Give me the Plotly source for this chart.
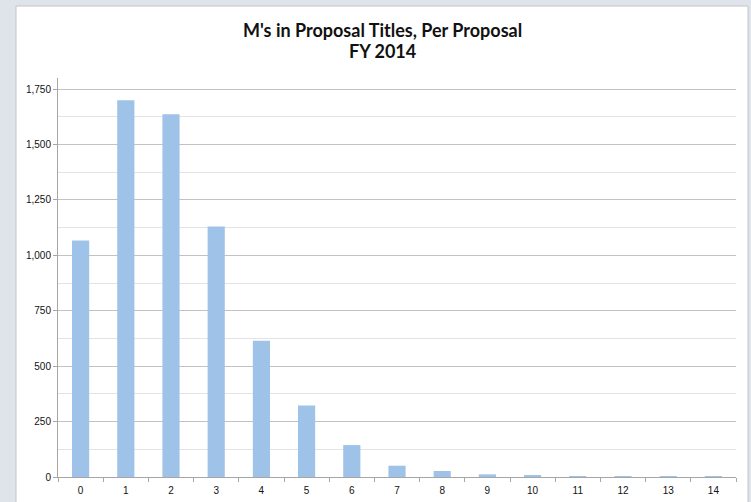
import plotly.graph_objects as go

categories = [str(i) for i in range(15)]
counts = [1067, 1700, 1637, 1130, 615, 322, 144, 51, 27, 12, 5, 4, 3, 3, 3]
title_line1 = "M's in Proposal Titles, Per Proposal"
title_line2 = "FY 2014"

W, H = 751, 502
L, R, T, B = 58, 15, 78, 25
pw, ph = W - L - R, H - T - B

def px_x(x):
    return (x - L) / pw

def px_y(y):
    return (H - B - y) / ph

fig = go.Figure()
fig.add_trace(go.Bar(x=categories, y=counts, marker=dict(color="#9fc3e8", line=dict(width=0)),
                     hoverinfo="x+y"))

fig.update_layout(
    width=W, height=H,
    margin=dict(l=L, r=R, t=T, b=B),
    paper_bgcolor="#dfe4ea",
    plot_bgcolor="white",
    bargap=0.62,
    showlegend=False,
    shapes=[dict(type="rect", xref="paper", yref="paper",
                 x0=px_x(16), x1=px_x(748), y0=px_y(503), y1=px_y(6),
                 fillcolor="white", line=dict(color="#c4c4c4", width=1), layer="below")],
    annotations=[
        dict(text=title_line1, xref="paper", yref="paper", x=px_x(382), y=px_y(30),
             xanchor="center", yanchor="middle", showarrow=False,
             font=dict(family="Lato", size=18, color="#111111", weight="bold")),
        dict(text=title_line2, xref="paper", yref="paper", x=px_x(382), y=px_y(51),
             xanchor="center", yanchor="middle", showarrow=False,
             font=dict(family="Lato", size=18, color="#111111", weight="bold")),
    ],
)

fig.update_xaxes(
    type="category",
    showline=True, linecolor="#a6a6a6", linewidth=1,
    ticks="outside", tickson="boundaries", ticklen=4, tickcolor="#a6a6a6",
    ticklabelstandoff=4,
    showgrid=False, automargin=False,
    tickfont=dict(family="Liberation Sans", size=10, color="#111111"),
)
fig.update_yaxes(
    range=[0, 1800],
    tickvals=[0, 250, 500, 750, 1000, 1250, 1500, 1750],
    tickformat=",d",
    showline=True, linecolor="#a6a6a6", linewidth=1,
    ticks="outside", ticklen=4, tickcolor="#a6a6a6",
    showgrid=True, gridcolor="#c2c2c2", gridwidth=1.3,
    minor=dict(tickvals=[125, 375, 625, 875, 1125, 1375, 1625], showgrid=True,
               gridcolor="#e3e3e3", gridwidth=1, ticks=""),
    zeroline=False, automargin=False,
    tickfont=dict(family="Liberation Sans", size=10, color="#111111"),
)

fig.write_html("out.html", config={"displayModeBar": False},
               post_script="document.body.style.margin='0';")
